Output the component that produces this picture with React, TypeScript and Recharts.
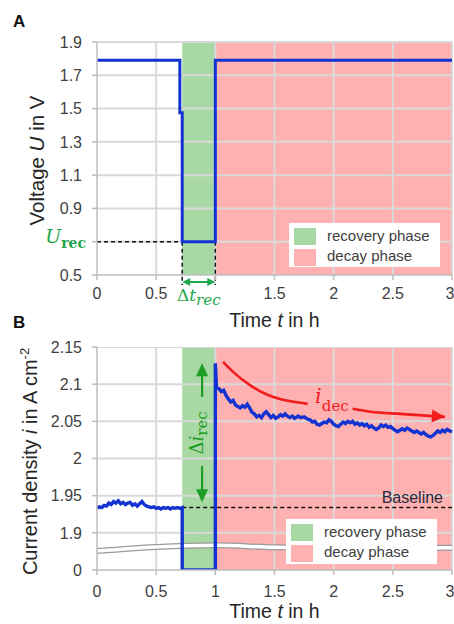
import React from 'react';
import {
  ComposedChart,
  Line,
  Area,
  XAxis,
  YAxis,
  ReferenceLine,
  ReferenceDot,
  Legend,
} from 'recharts';

// ---- data ----
const timeTicks = [0, 0.5, 1, 1.5, 2, 2.5, 3];
const voltageTicks = [0.5, 0.7, 0.9, 1.1, 1.3, 1.5, 1.7, 1.9];
const currentTicks = [1.85, 1.9, 1.95, 2, 2.05, 2.1, 2.15];

const recoveryStart = 0.72;
const recoveryEnd = 1.0;
const timeEnd = 3;
const recoveryVoltage = 0.7;
const baselineCurrent = 1.934;
const currentAxisFloor = 1.85; // broken axis: everything below is drawn at the "0" tick

// cell voltage, step profile
const voltageTime = [0, 0.7, 0.7, 0.72, 0.72, 1.0, 1.0, 3.0];
const voltageValues = [1.79, 1.79, 1.475, 1.475, 0.7, 0.7, 1.79, 1.79];

// current density before, during and after the recovery step
const currentTime = [
  0, 0.02, 0.04, 0.06, 0.08, 0.1, 0.12, 0.14, 0.16, 0.18, 0.2, 0.22, 0.24, 0.26, 0.28, 0.3, 0.32, 0.34,
  0.36, 0.38, 0.4, 0.42, 0.44, 0.46, 0.48, 0.5, 0.52, 0.54, 0.56, 0.58, 0.6, 0.62, 0.64, 0.66, 0.68, 0.7,
  0.72, 0.72, 1.0, 1.0,
  1.01, 1.03, 1.05, 1.07, 1.09, 1.11, 1.13, 1.15, 1.17, 1.19, 1.21, 1.23, 1.25, 1.27, 1.29, 1.31, 1.33,
  1.35, 1.37, 1.39, 1.41, 1.43, 1.45, 1.47, 1.49, 1.51, 1.53, 1.55, 1.57, 1.59, 1.61, 1.63, 1.65, 1.67,
  1.7, 1.72, 1.75, 1.78, 1.8, 1.82, 1.84, 1.86, 1.88, 1.9, 1.92, 1.94, 1.96, 1.98, 2.0, 2.02, 2.04, 2.06,
  2.08, 2.1, 2.12, 2.14, 2.16, 2.18, 2.2, 2.22, 2.24, 2.26, 2.28, 2.3, 2.32, 2.34, 2.36, 2.38, 2.4, 2.42,
  2.44, 2.46, 2.48, 2.5, 2.52, 2.54, 2.56, 2.58, 2.6, 2.62, 2.64, 2.66, 2.68, 2.7, 2.72, 2.74, 2.76, 2.78,
  2.8, 2.82, 2.84, 2.86, 2.88, 2.9, 2.92, 2.94, 2.96, 2.98, 3.0,
];
const currentValues = [
  1.933, 1.935, 1.934, 1.937, 1.936, 1.94, 1.938, 1.942, 1.94, 1.943, 1.939, 1.941, 1.938, 1.94, 1.941,
  1.937, 1.939, 1.936, 1.939, 1.942, 1.938, 1.936, 1.935, 1.934, 1.935, 1.933, 1.934, 1.932, 1.934,
  1.933, 1.934, 1.932, 1.934, 1.933, 1.934, 1.933,
  1.934, 0, 0, 2.128,
  2.096, 2.094, 2.09, 2.092, 2.085, 2.08, 2.076, 2.078, 2.072, 2.07, 2.068, 2.071, 2.069, 2.073, 2.068,
  2.062, 2.06, 2.056, 2.058, 2.055, 2.06, 2.063, 2.059, 2.055, 2.058, 2.054, 2.056, 2.059, 2.057, 2.06,
  2.057, 2.055, 2.057, 2.054, 2.057, 2.055, 2.056, 2.053, 2.052, 2.049, 2.05, 2.046, 2.045, 2.047, 2.049,
  2.048, 2.052, 2.05, 2.046, 2.044, 2.043, 2.046, 2.049, 2.047, 2.05, 2.048, 2.05, 2.046, 2.048, 2.045,
  2.047, 2.044, 2.046, 2.042, 2.044, 2.041, 2.039, 2.041, 2.045, 2.043, 2.045, 2.042, 2.043, 2.04, 2.038,
  2.036, 2.038, 2.04, 2.038, 2.041, 2.039, 2.037, 2.035, 2.037, 2.035, 2.033, 2.035, 2.032, 2.03, 2.029,
  2.031, 2.034, 2.037, 2.035, 2.038, 2.036, 2.039, 2.037, 2.036,
];

// decay trend arrow (split where the label sits)
const decayArrowTimeA = [1.065, 1.15, 1.29, 1.44, 1.57, 1.72, 1.78];
const decayArrowValueA = [2.13, 2.1165, 2.099, 2.0857, 2.079, 2.075, 2.0735];
const decayArrowTimeB = [2.16, 2.31, 2.56, 2.94];
const decayArrowValueB = [2.067, 2.063, 2.06, 2.056];

// axis break marker across the lower current axis
const breakTime = [0, 0.5, 1, 1.5, 2, 2.5, 3];
const breakLevel = [1.8755, 1.881, 1.8832, 1.8805, 1.8795, 1.8795, 1.8798];

// band colours are slightly see-through so the grid stays visible
const bandOpacity = 0.75;
const phases = [
  { name: 'recovery phase', color: '#8bcc86', from: recoveryStart, to: recoveryEnd },
  { name: 'decay phase', color: '#ff9696', from: recoveryEnd, to: timeEnd },
];

// ---- styles ----
const FONT = '"Liberation Sans", Arial, sans-serif';
const MATH = '"DejaVu Serif", "Liberation Serif", serif';
const blue = '#1232d2';
const gridColor = '#d9d9d9';
const axisColor = '#bdbdbd';
const textColor = '#404040';
const labelGreen = '#1fa64c';
const arrowGreen = '#1b9c22';
const decayRed = '#f21c1c';

const voltageRows = voltageTime.map((t, k) => ({ t, u: voltageValues[k] }));
const currentRows = currentTime.map((t, k) => ({ t, i: Math.max(currentValues[k], currentAxisFloor) }));
const decayRowsA = decayArrowTimeA.map((t, k) => ({ t, i: decayArrowValueA[k] }));
const decayRowsB = decayArrowTimeB.map((t, k) => ({ t, i: decayArrowValueB[k] }));
const breakRows = breakTime.map((t, k) => ({ t, i: breakLevel[k] }));

function arrowHead(x: number, y: number, angle: number, len: number, half: number, color: string) {
  const c = Math.cos(angle);
  const s = Math.sin(angle);
  const bx = x - c * len;
  const by = y - s * len;
  const pts = `${x},${y} ${bx - s * half},${by + c * half} ${bx + s * half},${by - c * half}`;
  return <polygon points={pts} fill={color} />;
}

// phase bands as filled areas from the axis floor up to the top tick
function phaseBands(yTicks: number[]) {
  const top = yTicks[yTicks.length - 1];
  return phases.map((p) => (
    <Area
      key={p.name}
      data={[{ t: p.from, band: top }, { t: p.to, band: top }]}
      dataKey="band"
      type="linear"
      baseValue={yTicks[0]}
      stroke="none"
      fill={p.color}
      fillOpacity={bandOpacity}
      dot={false}
      activeDot={false}
      isAnimationActive={false}
      legendType="none"
    />
  ));
}

// grid as one thin series per tick so it is painted over the phase bands
function gridLines(xTicks: number[], yTicks: number[], tag: string) {
  const yMin = yTicks[0];
  const yMax = yTicks[yTicks.length - 1];
  const xMin = xTicks[0];
  const xMax = xTicks[xTicks.length - 1];
  const lines: React.ReactNode[] = [];
  xTicks.slice(1).forEach((v) => {
    lines.push(
      <Line
        key={`${tag}x${v}`}
        data={[{ t: v, [`gx${v}`]: yMin }, { t: v, [`gx${v}`]: yMax }]}
        dataKey={`gx${v}`}
        type="linear"
        stroke={gridColor}
        strokeWidth={2}
        dot={false}
        activeDot={false}
        isAnimationActive={false}
        legendType="none"
      />
    );
  });
  yTicks.slice(1).forEach((v) => {
    lines.push(
      <Line
        key={`${tag}y${v}`}
        data={[{ t: xMin, [`gy${v}`]: v }, { t: xMax, [`gy${v}`]: v }]}
        dataKey={`gy${v}`}
        type="linear"
        stroke={gridColor}
        strokeWidth={2}
        dot={false}
        activeDot={false}
        isAnimationActive={false}
        legendType="none"
      />
    );
  });
  return lines;
}

const PhaseLegend = ({ swatchLeft, textLeft }: { swatchLeft: number; textLeft: number }) => (
  <div style={{ background: '#fff', width: '100%', height: '100%', position: 'relative', fontFamily: FONT }}>
    {phases.map((p, k) => (
      <div key={p.name}>
        <div
          style={{
            position: 'absolute',
            left: swatchLeft,
            top: 5 + k * 21,
            width: 22,
            height: 17,
            background: p.color,
            opacity: bandOpacity,
          }}
        />
        <div
          style={{
            position: 'absolute',
            left: textLeft,
            top: 4 + k * 20,
            fontSize: 15,
            lineHeight: '18px',
            color: textColor,
            whiteSpace: 'nowrap',
          }}
        >
          {p.name}
        </div>
      </div>
    ))}
  </div>
);

const VoltageTick = (p: any) => {
  const { x, y, payload } = p;
  if (payload.value === recoveryVoltage) {
    return (
      <text x={x + 4} y={y + 1} textAnchor="end" fill={labelGreen} fontFamily={MATH}>
        <tspan fontStyle="italic" fontSize={19}>U</tspan>
        <tspan fontSize={14} fontWeight="bold" dy={5}>rec</tspan>
      </text>
    );
  }
  return (
    <text x={x} y={y} dy="0.36em" textAnchor="end" fill={textColor} fontSize={16} fontFamily={FONT}>
      {payload.value}
    </text>
  );
};

const RecoveryWindowArrow = (p: any) => {
  const { x1, y1, x2 } = p;
  const left = Math.min(x1, x2);
  const right = Math.max(x1, x2);
  return (
    <g>
      <line x1={left + 6} y1={y1} x2={right - 6} y2={y1} stroke={labelGreen} strokeWidth={2} />
      {arrowHead(left, y1, Math.PI, 8, 4, labelGreen)}
      {arrowHead(right, y1, 0, 8, 4, labelGreen)}
      <text x={(left + right) / 2} y={y1 + 19} textAnchor="middle" fill={labelGreen} fontFamily={MATH} fontSize={17}>
        Δ<tspan fontStyle="italic">t</tspan>
        <tspan fontStyle="italic" fontSize={15} dy={4}>rec</tspan>
      </text>
    </g>
  );
};

const RecoveryCurrentArrow = (p: any) => {
  const { x1, y1, y2 } = p;
  const top = Math.min(y1, y2);
  const bottom = Math.max(y1, y2);
  const mid = (top + bottom) / 2;
  return (
    <g>
      <line x1={x1} y1={top + 10} x2={x1} y2={mid - 36} stroke={arrowGreen} strokeWidth={2.2} />
      <line x1={x1} y1={mid + 33} x2={x1} y2={bottom - 10} stroke={arrowGreen} strokeWidth={2.2} />
      {arrowHead(x1, top, -Math.PI / 2, 13, 6, arrowGreen)}
      {arrowHead(x1, bottom, Math.PI / 2, 13, 6, arrowGreen)}
      <text
        x={x1 + 1}
        y={mid}
        transform={`rotate(-90 ${x1 + 1} ${mid})`}
        textAnchor="middle"
        fill={arrowGreen}
        fontFamily={MATH}
        fontSize={18}
      >
        Δ<tspan fontStyle="italic">i</tspan>
        <tspan fontSize={15} dy={4}>rec</tspan>
      </text>
    </g>
  );
};

const DecayArrowTip = (p: any) => {
  const last = decayRowsB.length - 1;
  if (p.index !== last) return <g key={p.key} />;
  let angle = 0.05;
  const pts = p.points;
  if (pts && pts.length > 1) {
    const a = pts[pts.length - 2];
    const b = pts[pts.length - 1];
    angle = Math.atan2(b.y - a.y, b.x - a.x);
  }
  return <g key={p.key}>{arrowHead(p.cx, p.cy, angle, 13, 6.5, decayRed)}</g>;
};

const TimeTitle = (dy: number) => (p: any) => {
  const vb = p.viewBox || { x: 97, y: 0, width: 355 };
  return (
    <text x={vb.x + vb.width / 2} y={vb.y + dy} textAnchor="middle" fill="#262626" fontSize={19.5} fontFamily={FONT}>
      Time <tspan fontStyle="italic">t</tspan> in h
    </text>
  );
};

const axisCommon = {
  stroke: axisColor,
  strokeWidth: 1.5,
  tickSize: 5,
  tickLine: { stroke: axisColor },
};

function VoltagePanel() {
  return (
    <ComposedChart width={454} height={335} margin={{ top: 42, right: 2, left: 0, bottom: 0 }}>
      {phaseBands(voltageTicks)}
      <XAxis
        type="number"
        dataKey="t"
        domain={[0, timeEnd]}
        ticks={timeTicks}
        tickFormatter={(v: number) => (v === recoveryEnd ? '' : String(v))}
        height={60}
        tickMargin={8}
        tick={{ fill: textColor, fontSize: 16, fontFamily: FONT }}
        label={{ content: TimeTitle(52) }}
        {...axisCommon}
      />
      <YAxis
        type="number"
        domain={[0.5, 1.9]}
        ticks={voltageTicks}
        width={97}
        tickMargin={10}
        tick={VoltageTick}
        label={{
          content: (p: any) => {
            const vb = p.viewBox || { y: 42, height: 233 };
            const cy = vb.y + vb.height / 2 + 2;
            return (
              <text x={44} y={cy} transform={`rotate(-90 44 ${cy})`} textAnchor="middle" fill="#262626" fontSize={20.5} fontFamily={FONT}>
                Voltage <tspan fontStyle="italic">U</tspan> in V
              </text>
            );
          },
        }}
        {...axisCommon}
      />
      {gridLines(timeTicks, voltageTicks, 'a')}
      <ReferenceLine
        segment={[{ x: 0, y: recoveryVoltage }, { x: recoveryStart, y: recoveryVoltage }]}
        stroke="#111"
        strokeWidth={1.5}
        strokeDasharray="4 3"
        ifOverflow="visible"
      />
      <ReferenceLine
        segment={[{ x: recoveryStart, y: recoveryVoltage }, { x: recoveryStart, y: 0.44 }]}
        stroke="#111"
        strokeWidth={1.5}
        strokeDasharray="4 3"
        ifOverflow="visible"
      />
      <ReferenceLine
        segment={[{ x: recoveryEnd, y: recoveryVoltage }, { x: recoveryEnd, y: 0.44 }]}
        stroke="#111"
        strokeWidth={1.5}
        strokeDasharray="4 3"
        ifOverflow="visible"
      />
      <ReferenceLine
        segment={[{ x: recoveryStart, y: 0.458 }, { x: recoveryEnd, y: 0.458 }]}
        ifOverflow="visible"
        shape={RecoveryWindowArrow}
      />
      <Line
        data={voltageRows}
        dataKey="u"
        type="linear"
        stroke={blue}
        strokeWidth={3}
        dot={false}
        activeDot={false}
        isAnimationActive={false}
      />
      <Legend
        layout="horizontal"
        verticalAlign="middle"
        align="center"
        wrapperStyle={{ left: 289, top: 223, width: 151, height: 44 }}
        content={() => <PhaseLegend swatchLeft={5} textLeft={38} />}
      />
    </ComposedChart>
  );
}

function CurrentPanel() {
  return (
    <ComposedChart width={454} height={314} margin={{ top: 37, right: 2, left: 0, bottom: 0 }}>
      {phaseBands(currentTicks)}
      <XAxis
        type="number"
        dataKey="t"
        domain={[0, timeEnd]}
        ticks={timeTicks}
        height={54}
        tickMargin={11}
        tick={{ fill: textColor, fontSize: 16, fontFamily: FONT }}
        label={{ content: TimeTitle(48) }}
        {...axisCommon}
      />
      <YAxis
        type="number"
        domain={[currentAxisFloor, 2.15]}
        ticks={currentTicks}
        allowDataOverflow
        width={97}
        tickMargin={10}
        tickFormatter={(v: number) => (v === currentAxisFloor ? '0' : String(v))}
        tick={{ fill: textColor, fontSize: 16, fontFamily: FONT }}
        label={{
          content: (p: any) => {
            const vb = p.viewBox || { y: 37, height: 223 };
            const cy = vb.y + vb.height / 2 + 3;
            return (
              <text x={37} y={cy} transform={`rotate(-90 37 ${cy})`} textAnchor="middle" fill="#262626" fontSize={20} fontFamily={FONT}>
                Current density <tspan fontStyle="italic">i</tspan> in A cm
                <tspan fontSize={13} dy={-8}>-2</tspan>
              </text>
            );
          },
        }}
        {...axisCommon}
      />
      {gridLines(timeTicks, currentTicks, 'b')}
      <Line data={breakRows} dataKey="i" type="monotone" stroke="#9a9a9a" strokeWidth={6} dot={false} activeDot={false} isAnimationActive={false} legendType="none" />
      <Line data={breakRows} dataKey="i" type="monotone" stroke="#ffffff" strokeWidth={3.5} dot={false} activeDot={false} isAnimationActive={false} legendType="none" />
      <ReferenceLine
        segment={[{ x: recoveryStart, y: baselineCurrent }, { x: timeEnd, y: baselineCurrent }]}
        stroke="#111"
        strokeWidth={1.5}
        strokeDasharray="4 3"
        label={{
          content: (p: any) => {
            const vb = p.viewBox || { x: 183, y: 197, width: 269 };
            return (
              <text x={vb.x + vb.width - 9} y={vb.y - 5} textAnchor="end" fill="#2a2a3a" fontSize={16} fontFamily={FONT}>
                Baseline
              </text>
            );
          },
        }}
      />
      <ReferenceLine
        segment={[{ x: 0.888, y: 1.941 }, { x: 0.888, y: 2.128 }]}
        ifOverflow="visible"
        shape={RecoveryCurrentArrow}
      />
      <Line data={decayRowsA} dataKey="i" type="monotone" stroke={decayRed} strokeWidth={2.6} dot={false} activeDot={false} isAnimationActive={false} legendType="none" />
      <Line data={decayRowsB} dataKey="i" type="monotone" stroke={decayRed} strokeWidth={2.6} dot={DecayArrowTip} activeDot={false} isAnimationActive={false} legendType="none" />
      <ReferenceDot
        x={1.985}
        y={2.075}
        r={0}
        fill="none"
        stroke="none"
        label={{
          content: (p: any) => {
            const vb = p.viewBox || { x: 332, y: 93 };
            return (
              <text x={vb.x} y={vb.y} textAnchor="middle" fill={decayRed} fontFamily={MATH}>
                <tspan fontStyle="italic" fontSize={21}>i</tspan>
                <tspan fontSize={15} dy={8}>dec</tspan>
              </text>
            );
          },
        }}
      />
      <Line
        data={currentRows}
        dataKey="i"
        type="linear"
        stroke={blue}
        strokeWidth={3.4}
        dot={false}
        activeDot={false}
        isAnimationActive={false}
      />
      <Legend
        layout="horizontal"
        verticalAlign="middle"
        align="center"
        wrapperStyle={{ left: 286, top: 209, width: 151, height: 45 }}
        content={() => <PhaseLegend swatchLeft={5} textLeft={38} />}
      />
    </ComposedChart>
  );
}

const PanelLetter = ({ letter, top }: { letter: string; top: number }) => (
  <svg width={30} height={24} style={{ position: 'absolute', left: 0, top }}>
    <text x={13} y={19} fontWeight="bold" fontSize={17} fontFamily={FONT} fill="#111">
      {letter}
    </text>
  </svg>
);

export default function App() {
  return (
    <div style={{ position: 'absolute', left: 0, top: 0, width: 454, height: 624, background: '#fff', fontFamily: FONT }}>
      <div style={{ position: 'absolute', left: 0, top: 0 }}>
        <VoltagePanel />
      </div>
      <div style={{ position: 'absolute', left: 0, top: 310 }}>
        <CurrentPanel />
      </div>
      <PanelLetter letter="A" top={8} />
      <PanelLetter letter="B" top={309} />
    </div>
  );
}
